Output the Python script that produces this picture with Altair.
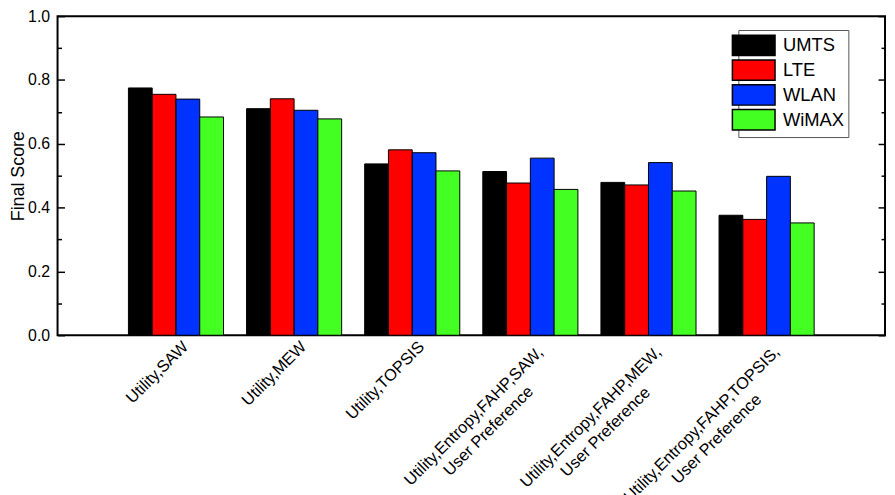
import json
import altair as alt
import pandas as pd

FONT = "Liberation Sans"

categories = [
    "Utility,SAW",
    "Utility,MEW",
    "Utility,TOPSIS",
    "Utility,Entropy,FAHP,SAW, User Preference",
    "Utility,Entropy,FAHP,MEW, User Preference",
    "Utility,Entropy,FAHP,TOPSIS, User Preference",
]
series = ["UMTS", "LTE", "WLAN", "WiMAX"]
umts = [0.775, 0.710, 0.537, 0.513, 0.479, 0.376]
lte = [0.755, 0.741, 0.581, 0.477, 0.471, 0.363]
wlan = [0.740, 0.705, 0.572, 0.555, 0.541, 0.498]
wimax = [0.684, 0.678, 0.515, 0.457, 0.452, 0.352]
colors = ["#000000", "#ff0000", "#0033ff", "#44ff22"]
y_label_values = [0.0, 0.2, 0.4, 0.6, 0.8, 1.0]
y_tick_values = [0.0, 0.1, 0.2, 0.3, 0.4, 0.5, 0.6, 0.7, 0.8, 0.9, 1.0]

rows = []
for vals, s in zip([umts, lte, wlan, wimax], series):
    for c, v in zip(categories, vals):
        rows.append({"cat": c, "series": s, "value": v})
df = pd.DataFrame(rows)

# Arial-like advance widths (em) used to centre wrapped label lines
ADV = {"U": .722, "t": .278, "i": .222, "l": .222, "y": .5, ",": .278, "S": .667,
       "A": .667, "W": .944, "M": .833, "E": .667, "n": .556, "r": .333, "o": .556,
       "p": .556, "F": .611, "H": .722, "P": .667, "T": .611, "O": .778, "I": .278}
LABEL_FS = 16.5
BASE_OFF, BASE_PAD = 4, 3

expr = "datum.label"
off_conds, pad_conds = [], []
for c in categories:
    if ", " in c:
        first, second = c.split(", ", 1)
        first = first + ","
        test = f"datum.value == {json.dumps(c)}"
        expr = f"{test} ? {json.dumps([first, second])} : ({expr})"
        half = sum(ADV.get(ch, .55) for ch in first) * LABEL_FS * 0.5 * 0.7071
        off_conds.append({"test": test, "value": round(BASE_OFF + 3 - half, 1)})
        pad_conds.append({"test": test, "value": round(BASE_PAD + 3 + half, 1)})

W, H = 835, 322

bars = alt.Chart(df).mark_bar(stroke="black", strokeWidth=1).encode(
    x=alt.X(
        "cat:N",
        sort=categories,
        scale=alt.Scale(paddingInner=0.195, paddingOuter=0.6),
        axis=alt.Axis(
            title=None, labelAngle=-45,
            labelAlign={"condition": [{"test": t["test"], "value": "center"} for t in off_conds], "value": "right"},
            labelBaseline="top",
            labelFontSize=LABEL_FS, labelFont=FONT, labelColor="black", labelLimit=0,
            labelPadding={"condition": pad_conds, "value": BASE_PAD},
            labelOffset={"condition": off_conds, "value": BASE_OFF},
            ticks=False, tickSize=0, domain=False,
            labelExpr=expr, labelLineHeight=21, labelOverlap=False,
        ),
    ),
    xOffset=alt.XOffset("series:N", sort=series,
                        scale=alt.Scale(paddingInner=0, paddingOuter=0)),
    y=alt.Y(
        "value:Q",
        scale=alt.Scale(domain=[0, 1], nice=False),
        axis=alt.Axis(
            orient="left", title="Final Score", values=y_label_values, format=".1f",
            ticks=False, tickSize=0, domain=False, grid=False, labelPadding=8,
            labelFontSize=16, labelFont=FONT, labelColor="black",
            titleFontSize=18, titleFont=FONT, titleFontWeight="normal",
            titleColor="black", titlePadding=0,
        ),
    ),
    color=alt.Color(
        "series:N", sort=series,
        scale=alt.Scale(domain=series, range=colors),
        legend=alt.Legend(
            title=None, orient="none", legendX=687, legendY=14,
            symbolType="M-2.09,-1H2.09V1H-2.09Z", symbolSize=424,
            symbolStrokeColor="black", symbolStrokeWidth=1.5, symbolOpacity=1,
            labelFontSize=18.5, labelFont=FONT, labelColor="black",
            labelOffset=18, padding=4, rowPadding=-3.3, strokeColor="#555555",
            fillColor="white",
        ),
    ),
)

tick_cond = {"condition": {"test": "round(datum.value * 10) % 2 == 0", "value": 7}, "value": 4}

left_ticks = alt.Chart(df).mark_point(opacity=0).encode(
    y=alt.Y("value:Q", axis=alt.Axis(
        orient="right", offset=-W, values=y_tick_values, labels=False,
        domain=False, grid=False, title=None, tickSize=tick_cond,
        tickColor="black", tickWidth=1.5,
    ))
)
right_ticks = alt.Chart(df).mark_point(opacity=0).encode(
    y=alt.Y("value:Q", axis=alt.Axis(
        orient="left", offset=-W, values=y_tick_values, labels=False,
        domain=False, grid=False, title=None, tickSize=tick_cond,
        tickColor="black", tickWidth=1.5,
    ))
)

chart = alt.layer(bars, left_ticks, right_ticks).resolve_axis(y="independent").properties(
    width=W, height=H,
    autosize=alt.AutoSizeParams(type="none"),
    padding={"left": 50, "top": 6, "right": 2, "bottom": 159},
    background="white",
).configure_view(stroke="black", strokeWidth=2)

chart.save("out.html", embed_options={"renderer": "svg", "actions": False})
